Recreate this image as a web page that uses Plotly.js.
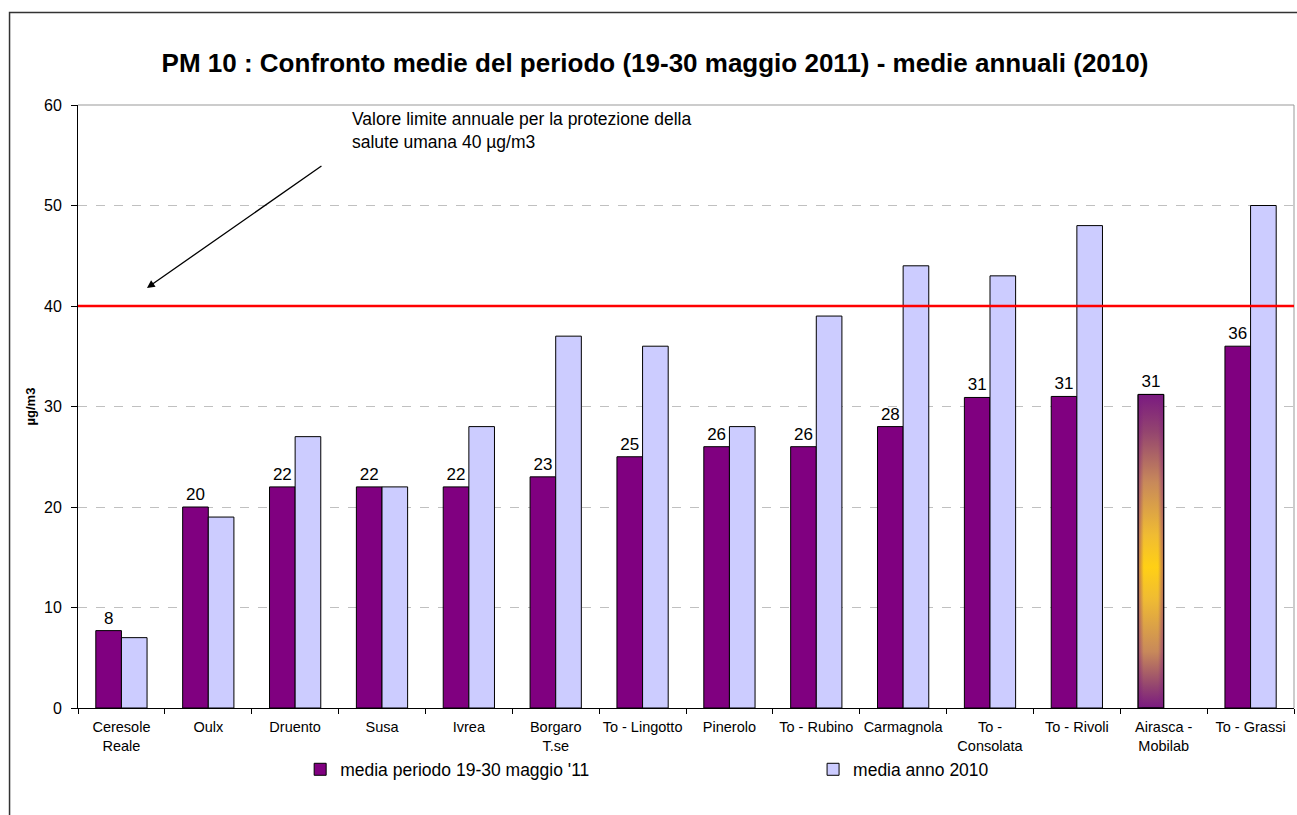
<!DOCTYPE html>
<html>
<head>
<meta charset="utf-8">
<script src="https://cdn.plot.ly/plotly-3.0.1.min.js"></script>
<style>
  html, body { margin: 0; padding: 0; background: #ffffff; }
  #chart { width: 1297px; height: 815px; }
</style>
</head>
<body>
<div id="chart"></div>
<script>
// ---- data ----
const categories = [
  "Ceresole<br>Reale", "Oulx", "Druento", "Susa", "Ivrea", "Borgaro<br>T.se",
  "To - Lingotto", "Pinerolo", "To - Rubino", "Carmagnola", "To -<br>Consolata",
  "To - Rivoli", "Airasca -<br>Mobilab", "To - Grassi"
];
const mediaPeriodo = [7.7, 20, 22, 22, 22, 23, 25, 26, 26, 28, 30.9, 31, 31.2, 36];
const mediaAnno2010 = [7, 19, 27, 22, 28, 37, 36, 28, 39, 44, 43, 48, null, 50];
const limiteAnnuale = 40;
const seriesNames = ["media periodo 19-30 maggio '11", "media anno 2010"];
const gradientIndex = 12; // Airasca - Mobilab bar drawn with gradient fill

const FONT = "'Liberation Sans', Arial, sans-serif";

const traces = [
  {
    type: "bar",
    name: seriesNames[0],
    legend: "legend",
    x: categories,
    y: mediaPeriodo,
    marker: { color: "#800080", line: { color: "#000000", width: 1 } },
    texttemplate: "%{y:.0f}",
    textposition: "outside",
    textfont: { family: FONT, size: 17, color: "#000000" },
    constraintext: "none",
    cliponaxis: false,
    hoverinfo: "skip"
  },
  {
    type: "bar",
    name: seriesNames[1],
    legend: "legend2",
    x: categories,
    y: mediaAnno2010,
    marker: { color: "#CCCCFF", line: { color: "#000000", width: 1 } },
    hoverinfo: "skip"
  }
];

const legendCommon = {
  orientation: "h",
  xanchor: "left",
  y: -0.072, yanchor: "top",
  font: { family: FONT, size: 17.5, color: "#000000" },
  bgcolor: "rgba(0,0,0,0)"
};

const layout = {
  width: 1297,
  height: 815,
  margin: { l: 78, r: 3, t: 105, b: 107 },
  paper_bgcolor: "#ffffff",
  plot_bgcolor: "#ffffff",
  font: { family: FONT, color: "#000000" },
  barmode: "group",
  bargap: 0.41,
  bargroupgap: 0,
  showlegend: true,
  title: {
    text: "<b>PM 10 : Confronto medie del periodo (19-30 maggio 2011) - medie annuali (2010)</b>",
    font: { family: FONT, size: 26, color: "#000000" },
    xref: "container", x: 0.505, xanchor: "center",
    yref: "container", y: 0.923, yanchor: "middle"
  },
  xaxis: {
    type: "category",
    showline: true, linecolor: "#000000", linewidth: 1,
    ticks: "outside", tickson: "boundaries", ticklen: 5, tickcolor: "#000000",
    tickfont: { family: FONT, size: 14.5, color: "#000000" },
    ticklabelstandoff: 6,
    showgrid: false, zeroline: false,
    tickangle: 0
  },
  yaxis: {
    range: [0, 60], dtick: 10,
    showline: true, linecolor: "#000000", linewidth: 1,
    ticks: "outside", ticklen: 6, tickcolor: "#000000",
    tickfont: { family: FONT, size: 16, color: "#000000" },
    ticklabelstandoff: 6,
    showgrid: true, gridcolor: "#c0c0c0", griddash: "dash", gridwidth: 1,
    zeroline: false,
    title: { text: "<b>µg/m3</b>", font: { family: FONT, size: 13, color: "#000000" }, standoff: 5 }
  },
  legend: Object.assign({}, legendCommon, { x: 0.1827 }),
  legend2: Object.assign({}, legendCommon, { x: 0.6045 }),
  shapes: [
    // outer chart frame
    { type: "rect", xref: "paper", yref: "paper", x0: -0.0563, x1: 1.02, y0: -0.22, y1: 1.1534,
      line: { color: "#333333", width: 1.5 }, fillcolor: "rgba(0,0,0,0)", layer: "below" },
    // plot area top and right borders
    { type: "line", xref: "paper", yref: "paper", x0: 0, x1: 1, y0: 1, y1: 1,
      line: { color: "#999999", width: 1 } },
    { type: "line", xref: "paper", yref: "paper", x0: 1, x1: 1, y0: 0, y1: 1,
      line: { color: "#999999", width: 1 } },
    // annual limit line
    { type: "line", xref: "paper", yref: "y", x0: 0, x1: 1, y0: limiteAnnuale, y1: limiteAnnuale,
      line: { color: "#ff0000", width: 2.5 } }
  ],
  annotations: [
    {
      xref: "paper", yref: "y", x: 0.2236, y: 59.8, xanchor: "left", yanchor: "top",
      align: "left", showarrow: false,
      text: "Valore limite annuale per la protezione della<br>salute umana 40 µg/m3",
      font: { family: FONT, size: 17.5, color: "#000000" }
    },
    {
      xref: "paper", yref: "y", x: 0.0567, y: 41.8, text: "",
      showarrow: true, arrowhead: 2, arrowsize: 1.2, arrowwidth: 1.3, arrowcolor: "#000000",
      ax: 176, ay: -123, axref: "pixel", ayref: "pixel"
    }
  ]
};

Plotly.newPlot("chart", traces, layout, { staticPlot: true, displayModeBar: false }).then(function (gd) {
  const svg = gd.querySelector("svg.main-svg");
  const NS = "http://www.w3.org/2000/svg";
  let defs = svg.querySelector("defs");
  if (!defs) { defs = document.createElementNS(NS, "defs"); svg.insertBefore(defs, svg.firstChild); }

  function makeGrad(id, horizontal, stops) {
    const g = document.createElementNS(NS, "linearGradient");
    g.setAttribute("id", id);
    g.setAttribute("x1", "0"); g.setAttribute("y1", "0");
    g.setAttribute("x2", horizontal ? "1" : "0"); g.setAttribute("y2", horizontal ? "0" : "1");
    stops.forEach(function (s) {
      const st = document.createElementNS(NS, "stop");
      st.setAttribute("offset", s[0]);
      st.setAttribute("stop-color", s[1]);
      st.setAttribute("stop-opacity", s[2] === undefined ? 1 : s[2]);
      g.appendChild(st);
    });
    defs.appendChild(g);
  }
  makeGrad("airascaV", false, [
    ["0%", "#7a1a80"], ["12%", "#94456f"], ["28%", "#c8895a"],
    ["45%", "#f0bc32"], ["55%", "#ffd015"], ["65%", "#f0bc32"],
    ["82%", "#c8895a"], ["93%", "#94456f"], ["100%", "#7a1a80"]
  ]);
  makeGrad("airascaH", true, [
    ["0%", "#7a1a80", 0.55], ["22%", "#7a1a80", 0], ["78%", "#7a1a80", 0], ["100%", "#7a1a80", 0.55]
  ]);

  const traceGroups = gd.querySelectorAll(".barlayer .trace");
  if (traceGroups.length) {
    const pts = traceGroups[0].querySelectorAll(".point");
    const pt = pts[gradientIndex];
    if (pt) {
      const path = pt.querySelector("path");
      if (path) {
        path.style.fill = "url(#airascaV)";
        const overlay = path.cloneNode(true);
        overlay.style.fill = "url(#airascaH)";
        path.parentNode.appendChild(overlay);
      }
    }
  }
});
</script>
</body>
</html>
